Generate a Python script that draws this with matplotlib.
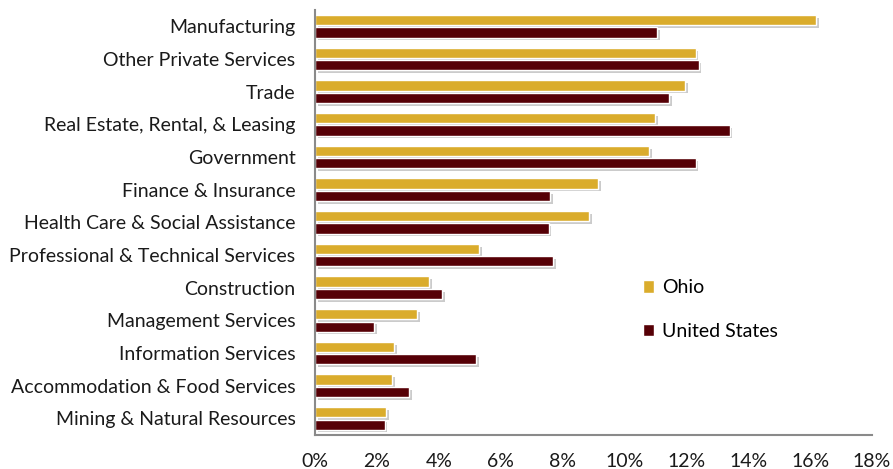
import matplotlib
matplotlib.use('Agg')
import matplotlib.pyplot as plt
import matplotlib.patheffects as pe
from matplotlib.patches import Patch
from matplotlib.ticker import FuncFormatter
import numpy as np

plt.rcParams['font.family'] = ['Lato', 'DejaVu Sans']

# industries, top to bottom as in the chart
industries = ['Manufacturing', 'Other Private Services', 'Trade',
              'Real Estate, Rental, & Leasing', 'Government',
              'Finance & Insurance', 'Health Care & Social Assistance',
              'Professional & Technical Services', 'Construction',
              'Management Services', 'Information Services',
              'Accommodation & Food Services', 'Mining & Natural Resources']
ohio = [16.2, 12.3, 11.95, 11.0, 10.8, 9.15, 8.85, 5.3, 3.7, 3.3, 2.55, 2.5, 2.3]
us = [11.05, 12.4, 11.45, 13.4, 12.3, 7.6, 7.55, 7.7, 4.1, 1.9, 5.2, 3.05, 2.25]
xticks = [0, 2, 4, 6, 8, 10, 12, 14, 16, 18]

gold = '#DAAC2C'
maroon = '#560006'

fig = plt.figure(figsize=(8.93, 4.69), dpi=100)
ax = fig.add_axes([0.3527, 0.0731, 0.6238, 0.9056])

y = np.arange(len(industries))[::-1]
h = 0.31
shadow = [pe.SimplePatchShadow(offset=(2, -2), shadow_rgbFace='#555555', alpha=0.3), pe.Normal()]

b1 = ax.barh(y + 0.19, ohio, height=h, color=gold, edgecolor='white', linewidth=1)
b2 = ax.barh(y - 0.19, us, height=h, color=maroon, edgecolor='white', linewidth=1)
for bars in (b1, b2):
    for p in bars:
        p.set_path_effects(shadow)

ax.set_xlim(0, 18)
ax.set_ylim(-0.5, 12.5)
ax.set_xticks(xticks)
ax.xaxis.set_major_formatter(FuncFormatter(lambda v, pos: f'{v:.0f}%'))
ax.set_yticks(y)
ax.set_yticklabels(industries)
ax.tick_params(axis='both', length=0, labelsize=14, colors='#1a1a1a')
ax.tick_params(axis='x', pad=13)
ax.tick_params(axis='y', pad=14)

for s in ['top', 'right']:
    ax.spines[s].set_visible(False)
for s in ['left', 'bottom']:
    ax.spines[s].set_color('#8a8a8a')
    ax.spines[s].set_linewidth(1.5)

handles = [Patch(facecolor=gold, edgecolor='white'), Patch(facecolor=maroon, edgecolor='white')]
fig.legend(handles, ['Ohio', 'United States'], loc='center left',
           bbox_to_anchor=(0.7, 0.34), frameon=False, fontsize=14,
           handlelength=0.6, handleheight=0.6, handletextpad=0.4, labelspacing=1.35)

fig.savefig('out.png', dpi=100)
